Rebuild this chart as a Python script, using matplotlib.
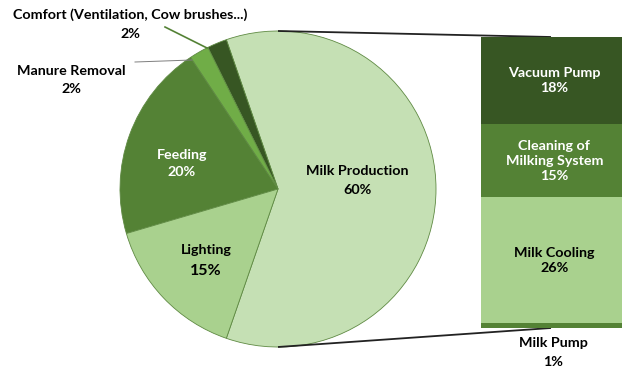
import numpy as np
import matplotlib
matplotlib.use("Agg")
import matplotlib.pyplot as plt

# pie data (share of total energy use, %)
pie_labels = ["Milk Production", "Comfort (Ventilation, Cow brushes...)",
              "Manure Removal", "Feeding", "Lighting"]
pie_values = [60, 2, 2, 20, 15]
pie_colors = ["#C5E0B4", "#375623", "#70AD47", "#548235", "#A9D18E"]

# breakdown of milk production, bottom to top
bar_labels = ["Milk Pump", "Milk Cooling", "Cleaning of\nMilking System", "Vacuum Pump"]
bar_values = [1, 26, 15, 18]
bar_colors = ["#548235", "#A9D18E", "#548235", "#375623"]

W, H = 622, 369
FONT = ["Lato", "DejaVu Sans"]
FS = 10.3

fig = plt.figure(figsize=(W / 100, H / 100), dpi=100)
ax = fig.add_axes([0, 0, 1, 1])

cx, cy, r = 278, H - 189, 158
start = -360 * pie_values[0] / sum(pie_values) / 2
ax.pie(pie_values, colors=pie_colors, startangle=start, counterclock=True,
       center=(cx, cy), radius=r,
       wedgeprops=dict(edgecolor="#5f8a43", linewidth=0.6))
ax.set_xlim(0, W)
ax.set_ylim(0, H)
ax.set_aspect("equal")
ax.axis("off")


def txt(x, y, s, color="black", size=FS, **kw):
    ax.text(x, H - y, s, ha="center", va="center", fontsize=size,
            fontweight="bold", color=color, family=FONT, **kw)


txt(357, 171, pie_labels[0])
txt(357, 190, f"{pie_values[0]}%")
txt(182, 155, pie_labels[3], color="white")
txt(182, 172, f"{pie_values[3]}%", color="white")
txt(206, 250, pie_labels[4])
txt(206, 271, f"{pie_values[4]}%", size=11.5)
txt(71, 71, pie_labels[2])
txt(71, 89, f"{pie_values[2]}%")
txt(130, 15, pie_labels[1])
txt(130, 34, f"{pie_values[1]}%")

# leader lines
ax.plot([135, 192], [H - 62, H - 60], color="#7f7f7f", lw=0.7)
ax.plot([165, 207], [H - 27, H - 48], color="#548235", lw=1.2)

# connector lines pie -> bar
ax.plot([cx, 551], [H - 31, H - 37], color="#222222", lw=1.3, solid_capstyle="butt")
ax.plot([cx, 551], [H - 347, H - 328], color="#222222", lw=1.3, solid_capstyle="butt")

# stacked bar
bx = fig.add_axes([481 / W, (H - 328) / H, (622 - 481) / W, (328 - 37) / H])
bottom = 0
for lab, v, c in zip(bar_labels, bar_values, bar_colors):
    bx.bar(0, v, bottom=bottom, width=1, color=c, edgecolor="none")
    bottom += v
bx.set_xlim(-0.5, 0.5)
bx.set_ylim(0, sum(bar_values))
bx.axis("off")

cum = np.cumsum([0] + bar_values)
for i, (lab, v) in enumerate(zip(bar_labels, bar_values)):
    if i == 0:
        continue
    mid = (cum[i] + cum[i + 1]) / 2
    col = "black" if bar_colors[i] == "#A9D18E" else "white"
    bx.text(0.02, mid, f"{lab}\n{v}%", ha="center", va="center", fontsize=FS,
            fontweight="bold", color=col, family=FONT, linespacing=1.3)

txt(553, 343, bar_labels[0])
txt(553, 362, f"{bar_values[0]}%")

fig.savefig("out.png", dpi=100)
